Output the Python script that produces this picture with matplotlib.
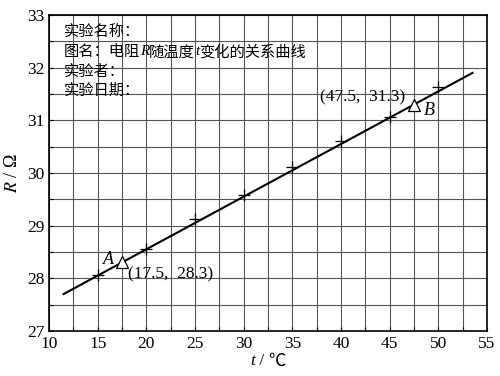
import matplotlib.pyplot as plt
import numpy as np

# measured points
t = [15, 20, 25, 30, 35, 40, 45, 50]
R = [28.07, 28.56, 29.12, 29.58, 30.12, 30.6, 31.06, 31.64]

# fitted line end points
fit_t = [11.5, 53.5]
fit_R = [27.70, 31.90]

# marked points A and B
pt_names = ['A', 'B']
pt_t = [17.5, 47.5]
pt_R = [28.3, 31.3]

info_lines = [
    [('实验名称：', 'normal')],
    [('图名：电阻', 'normal'), ('R', 'italic'), ('随温度', 'normal'), ('t', 'italic'), ('变化的关系曲线', 'normal')],
    [('实验者：', 'normal')],
    [('实验日期：', 'normal')],
]
info_y = [32.68, 32.3, 31.92, 31.56]

xlabel_pieces = [('t', 'italic'), (' / ', 'normal'), ('℃', 'cjk')]

serif = ['Liberation Serif', 'Noto Sans CJK SC', 'DejaVu Sans']
cjk = ['Noto Sans CJK SC', 'DejaVu Sans']
plt.rcParams['font.family'] = serif
plt.rcParams['mathtext.fontset'] = 'stix'

fig = plt.figure(figsize=(5, 3.76), dpi=100)
ax = fig.add_axes([0.098, 0.12, 0.876, 0.84])

ax.set_xlim(10, 55)
ax.set_ylim(27, 33)
ax.set_xticks(np.arange(10, 56, 5))
ax.set_yticks(np.arange(27, 34, 1))
ax.set_xticks(np.arange(10, 55, 2.5), minor=True)
ax.set_yticks(np.arange(27, 33, 0.5), minor=True)
ax.grid(True, which='both', color='#555555', linewidth=0.8)
ax.set_axisbelow(True)
ax.tick_params(which='both', direction='in', length=3, width=0.8, labelsize=12.5)
for s in ax.spines.values():
    s.set_linewidth(1.2)

ax.plot(fit_t, fit_R, color='black', linewidth=1.5, zorder=3)
ax.plot(t, R, linestyle='none', marker='+', markersize=8, color='black', markeredgewidth=0.9, zorder=4)
ax.plot(pt_t, pt_R, linestyle='none', marker='^', markersize=9, markerfacecolor='white',
        markeredgecolor='black', markeredgewidth=0.9, zorder=5)

ax.text(pt_t[0] - 0.8, pt_R[0] + 0.05, pt_names[0], fontsize=13, style='italic', ha='right', va='center')
ax.text(pt_t[0] + 0.6, pt_R[0] - 0.23, '(%.1f,  %.1f)' % (pt_t[0], pt_R[0]), fontsize=12.5, ha='left', va='center')
ax.text(pt_t[1] - 0.9, pt_R[1] + 0.14, '(%.1f,  %.1f)' % (pt_t[1], pt_R[1]), fontsize=12.5, ha='right', va='center')
ax.text(pt_t[1] + 1.0, pt_R[1] - 0.12, pt_names[1], fontsize=13, style='italic', ha='left', va='center')

fig.canvas.draw()
renderer = fig.canvas.get_renderer()


def draw_pieces(x0, y0, pieces, size):
    # x0, y0 in display pixels; draw text pieces one after another
    for txt, st in pieces:
        fam = cjk if st in ('normal', 'cjk') and any(ord(c) > 255 for c in txt) else serif
        style = 'italic' if st == 'italic' else 'normal'
        fx, fy = fig.transFigure.inverted().transform((x0, y0))
        tx = fig.text(fx, fy, txt, fontsize=size, style=style, ha='left', va='center', family=fam)
        x0 += tx.get_window_extent(renderer).width
    return x0


# info text block, R and t italic
for pieces, yy in zip(info_lines, info_y):
    x0, y0 = ax.transData.transform((11.5, yy))
    draw_pieces(x0, y0, pieces, 11)

# x label centred under the axes
cx, cy = ax.transAxes.transform((0.5, -0.095))
end = draw_pieces(0, -100, xlabel_pieces, 12.5)
draw_pieces(cx - end / 2, cy, xlabel_pieces, 12.5)
for tx in fig.texts[-6:-3]:
    tx.remove()

ax.set_ylabel('$R$ / Ω', fontsize=13, labelpad=4)

fig.savefig('out.png', dpi=100)
plt.close(fig)
